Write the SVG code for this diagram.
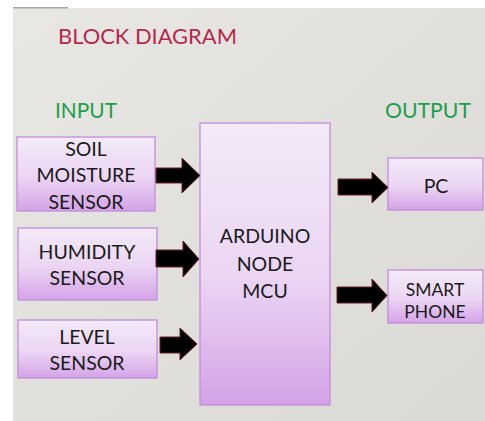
<svg xmlns="http://www.w3.org/2000/svg" width="485" height="421" viewBox="0 0 485 421">
<defs>
<linearGradient id="bg" x1="0" y1="0" x2="1" y2="1">
<stop offset="0" stop-color="#E9E7E4"/>
<stop offset="1" stop-color="#DBD9D5"/>
</linearGradient>
<linearGradient id="box" x1="0" y1="0" x2="0" y2="1">
<stop offset="0" stop-color="#F4EAF8"/>
<stop offset="0.55" stop-color="#EBD5F3"/>
<stop offset="1" stop-color="#D4A3E8"/>
</linearGradient>
<style>
.b{fill:url(#box);stroke:#C48CDA;stroke-width:1.3}
.t{font-family:Lato,"Open Sans","Liberation Sans",sans-serif;font-size:19.5px;fill:#1A1A1A;text-anchor:middle}
.s{font-size:17.5px}
.h{font-family:Lato,"Open Sans","Liberation Sans",sans-serif;font-size:21px}
.a{fill:#000;stroke:#6A1E24;stroke-width:1}
</style>
</defs>
<rect width="485" height="421" fill="#FFFFFF"/>
<rect x="13" y="8" width="472" height="413" fill="url(#bg)"/>
<rect x="13" y="7" width="55" height="1.5" fill="#A8A6A3"/>
<text x="58" y="44" class="h" font-size="24" fill="#B42A4E" textLength="179" lengthAdjust="spacingAndGlyphs">BLOCK DIAGRAM</text>
<text x="55" y="118" class="h" fill="#1E9E4A" textLength="62" lengthAdjust="spacingAndGlyphs">INPUT</text>
<text x="385" y="118" class="h" fill="#1E9E4A" textLength="86" lengthAdjust="spacingAndGlyphs">OUTPUT</text>
<g id="soil"><rect class="b" x="17" y="137" width="138" height="74"/>
<text class="t" x="86" y="156">SOIL</text><text class="t" x="86" y="182">MOISTURE</text><text class="t" x="86" y="209">SENSOR</text></g>
<g id="humidity"><rect class="b" x="18" y="228" width="139" height="72"/>
<text class="t" x="87" y="259">HUMIDITY</text><text class="t" x="87" y="285">SENSOR</text></g>
<g id="level"><rect class="b" x="18" y="320" width="139" height="58"/>
<text class="t" x="87" y="344">LEVEL</text><text class="t" x="87" y="370">SENSOR</text></g>
<g id="arduino"><rect class="b" x="200" y="123" width="130" height="282"/>
<text class="t" x="265" y="243">ARDUINO</text><text class="t" x="265" y="271">NODE</text><text class="t" x="265" y="298">MCU</text></g>
<g id="pc"><rect class="b" x="388" y="158" width="95" height="52"/>
<text class="t" x="436" y="193">PC</text></g>
<g id="phone"><rect class="b" x="388" y="270" width="95" height="53"/>
<text class="t s" x="435" y="296">SMART</text><text class="t s" x="435" y="318">PHONE</text></g>
<g id="connectors">
<polygon class="a" points="156,168 182,168 182,158 200,175.5 182,193 182,183 156,183"/>
<polygon class="a" points="156,250 183,250 183,241 199,259 183,277 183,267 156,267"/>
<polygon class="a" points="160,337 180,337 180,328 197,344 180,360 180,353 160,353"/>
<polygon class="a" points="338,179 372,179 372,172 388,187.5 372,203 372,195 338,195"/>
<polygon class="a" points="337,287 372,287 372,279 387,295.5 372,312 372,303 337,303"/>
</g>
</svg>
